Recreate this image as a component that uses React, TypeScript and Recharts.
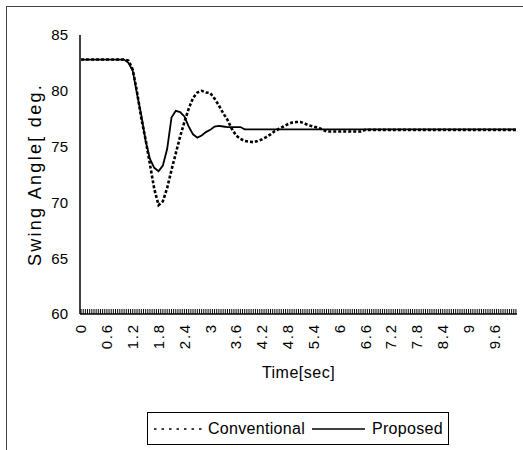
import React from 'react';
import { LineChart, Line, XAxis, YAxis } from 'recharts';

// sample times (sec); flat stretches only need their ends
const times = [
  0, 1.0, 1.1, 1.2, 1.3, 1.4, 1.5, 1.6, 1.7, 1.8, 1.9,
  2.0, 2.1, 2.2, 2.3, 2.4, 2.5, 2.6, 2.7, 2.8, 2.9,
  3.0, 3.1, 3.2, 3.3, 3.4, 3.5, 3.6, 3.7, 3.8, 3.9,
  4.0, 4.1, 4.2, 4.3, 4.4, 4.5, 4.6, 4.7, 4.8, 4.9,
  5.0, 5.1, 5.2, 5.3, 5.4, 5.5, 5.6, 5.7, 5.8, 5.9,
  6.0, 6.5, 6.6, 10.1,
];

const conventional = [
  82.8, 82.8, 82.7, 81.9, 79.9, 77.5, 75.6, 73.4, 71.2, 69.75, 70.1,
  71.3, 72.9, 74.4, 75.9, 77.2, 78.4, 79.35, 79.85, 80.0, 79.85,
  79.8, 79.3, 78.7, 78.0, 77.4, 76.6, 76.0, 75.7, 75.5, 75.45,
  75.4, 75.5, 75.65, 75.85, 76.1, 76.4, 76.6, 76.8, 77.0, 77.15,
  77.2, 77.2, 77.05, 76.9, 76.8, 76.7, 76.55, 76.35, 76.35, 76.35,
  76.35, 76.35, 76.5, 76.5,
];

const proposed = [
  82.8, 82.8, 82.5, 81.8, 79.7, 77.8, 75.5, 73.9, 73.1, 72.8, 73.3,
  74.8, 77.6, 78.2, 78.1, 77.7, 76.8, 76.1, 75.8, 76.0, 76.3,
  76.5, 76.8, 76.85, 76.8, 76.75, 76.75, 76.75, 76.75, 76.55, 76.55,
  76.55, 76.55, 76.55, 76.55, 76.55, 76.55, 76.55, 76.55, 76.55, 76.55,
  76.55, 76.55, 76.55, 76.55, 76.55, 76.55, 76.55, 76.55, 76.55, 76.55,
  76.55, 76.55, 76.55, 76.55,
];

const timeLabels = ['0', '0.6', '1.2', '1.8', '2.4', '3', '3.6', '4.2', '4.8', '5.4', '6', '6.6', '7.2', '7.8', '8.4', '9', '9.6'];
const angleTicks = [60, 65, 70, 75, 80, 85];

const data = times.map((t, i) => ({ t, conventional: conventional[i], proposed: proposed[i] }));

// one tick mark per 0.05 s sample, like the original category axis
const minorTicks = Array.from({ length: 203 }, (_, i) => i * 0.05);

const FONT = '"Liberation Sans", Arial, sans-serif';

function TimeTick({ x, y, payload }: any) {
  const v = Math.round(payload.value * 100) / 100;
  const label = timeLabels.find((l) => Number(l) === v);
  if (!label) return null;
  return (
    <text
      x={x}
      y={y}
      transform={`rotate(-90, ${x}, ${y})`}
      textAnchor="end"
      dy="0.36em"
      fill="#000"
      fontSize={15}
      letterSpacing={1.8}
      fontFamily={FONT}
    >
      {label}
    </text>
  );
}

const yTitle = (p: any) => {
  const vb = p.viewBox || { x: 0, y: 35, width: 80, height: 279 };
  const cx = vb.x + 35;
  const cy = vb.y + vb.height / 2;
  return (
    <text
      x={cx}
      y={cy}
      transform={`rotate(-90, ${cx}, ${cy})`}
      textAnchor="middle"
      dy="0.36em"
      fill="#000"
      fontSize={18}
      letterSpacing={2.3}
      fontFamily={FONT}
    >
      Swing Angle[ deg.
    </text>
  );
};

export default function App() {
  return (
    <div style={{ position: 'fixed', left: 0, top: 0, width: 523, height: 450, overflow: 'hidden', background: '#fff' }}>
      <div
        style={{
          position: 'absolute', left: 6, top: 6, width: 540, height: 470,
          borderLeft: '1px solid #444', borderTop: '1px solid #444',
        }}
      />
      <div style={{ position: 'absolute', left: 0, top: 0 }}>
        <LineChart
          width={523}
          height={450}
          data={data}
          margin={{ top: 35, right: 6, bottom: 0, left: 0 }}
          style={{ fontFamily: FONT }}
        >
          <XAxis
            dataKey="t"
            type="number"
            domain={[-0.025, 10.125]}
            allowDataOverflow
            ticks={minorTicks}
            interval={0}
            tick={<TimeTick />}
            tickSize={-5}
            tickMargin={14}
            tickLine={{ stroke: '#000', strokeWidth: 1 }}
            axisLine={{ stroke: '#000', strokeWidth: 1.5 }}
            height={136}
          />
          <XAxis
            xAxisId="top"
            orientation="top"
            type="number"
            domain={[-0.025, 10.125]}
            height={0}
            tick={false}
            tickLine={false}
            axisLine={{ stroke: '#000', strokeWidth: 1.5 }}
          />
          <YAxis
            type="number"
            domain={[60, 85]}
            ticks={angleTicks}
            interval={0}
            width={80}
            tickLine={false}
            tickSize={6}
            tickMargin={6}
            tick={{ fill: '#000', fontSize: 15, fontFamily: FONT }}
            axisLine={{ stroke: '#000', strokeWidth: 1.5 }}
            label={{ content: yTitle }}
          />
          <YAxis
            yAxisId="right"
            orientation="right"
            type="number"
            domain={[60, 85]}
            width={0}
            tick={false}
            tickLine={false}
            axisLine={{ stroke: '#000', strokeWidth: 1.5 }}
          />
          <Line
            type="linear"
            dataKey="conventional"
            name="Conventional"
            stroke="#000"
            strokeWidth={2.6}
            strokeDasharray="3 2"
            dot={false}
            isAnimationActive={false}
          />
          <Line
            type="linear"
            dataKey="proposed"
            name="Proposed"
            stroke="#000"
            strokeWidth={1.8}
            dot={false}
            isAnimationActive={false}
          />
        </LineChart>
      </div>
      <div
        style={{
          position: 'absolute', left: 80, top: 364, width: 437, textAlign: 'center',
          fontFamily: FONT, fontSize: 16, letterSpacing: 0.5, color: '#000', lineHeight: '18px',
        }}
      >
        Time[sec]
      </div>
      <div
        style={{
          position: 'absolute', left: 147, top: 412, width: 300, height: 31,
          border: '1.5px solid #000', background: '#fff',
          display: 'flex', alignItems: 'center', fontFamily: FONT, fontSize: 16,
          color: '#000', letterSpacing: 0.3, whiteSpace: 'nowrap',
        }}
      >
        <svg width={55} height={10} style={{ marginLeft: 5 }}>
          <line x1={1} y1={5} x2={53} y2={5} stroke="#000" strokeWidth={1.6} strokeDasharray="2.5 5" />
        </svg>
        <span>Conventional</span>
        <svg width={62} height={10} style={{ marginLeft: 5 }}>
          <line x1={2} y1={5} x2={55} y2={5} stroke="#000" strokeWidth={1.4} />
        </svg>
        <span>Proposed</span>
      </div>
    </div>
  );
}
